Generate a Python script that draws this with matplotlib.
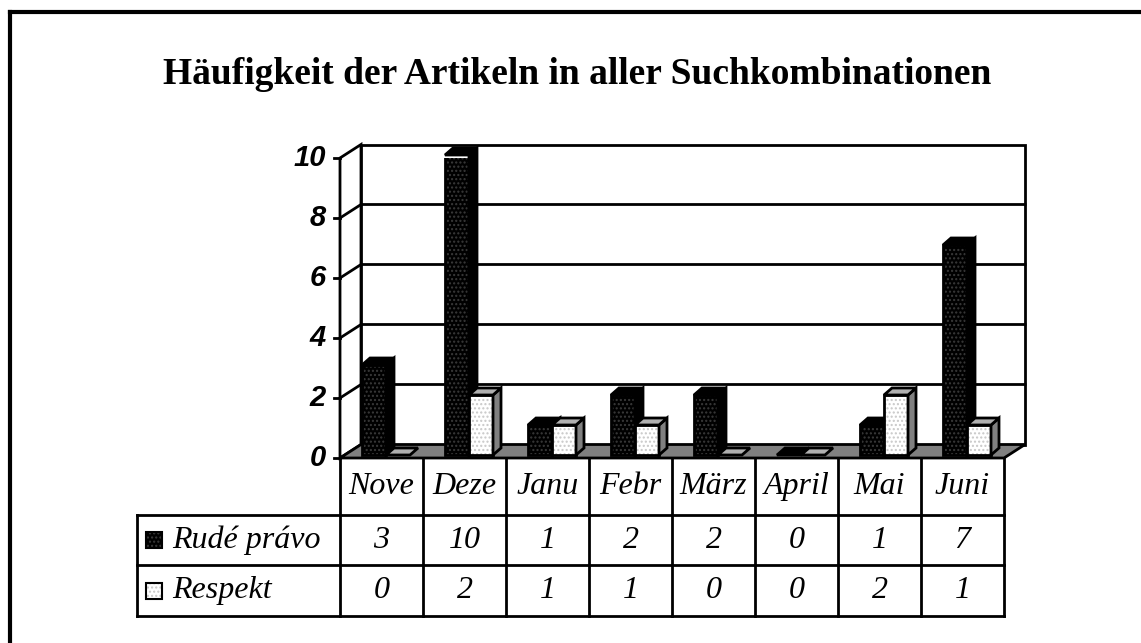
import numpy as np
import matplotlib.pyplot as plt
from matplotlib.patches import Polygon, Rectangle
from matplotlib.lines import Line2D

months = ['Nove', 'Deze', 'Janu', 'Febr', 'März', 'April', 'Mai', 'Juni']
rude_pravo = [3, 10, 1, 2, 2, 0, 1, 7]
respekt = [0, 2, 1, 1, 0, 0, 2, 1]
series_names = ['Rudé právo', 'Respekt']
yticks = [0, 2, 4, 6, 8, 10]
title = 'Häufigkeit der Artikeln in aller Suchkombinationen'

W, H = 1141, 643
fig = plt.figure(figsize=(W / 100, H / 100), dpi=100)

# front plane of the pseudo-3d box
ax = fig.add_axes([340 / W, (H - 458) / H, 664 / W, 300 / H])
n = len(months)
ax.set_xlim(-0.5, n - 0.5)
ax.set_ylim(0, 10)
ax.axis('off')

px = n / 664.0   # data units per pixel, x
py = 10 / 300.0  # data units per pixel, y
DX, DY = 21 * px, 13.5 * py  # depth of the box
lw = 2
serif = 'Liberation Serif'

def poly(pts, fc, z, **kw):
    p = Polygon(pts, closed=True, facecolor=fc, edgecolor='black', lw=lw,
                zorder=z, clip_on=False, joinstyle='miter', **kw)
    ax.add_patch(p)

x0, x1 = -0.5, n - 0.5
# left wall and back wall
poly([(x0, 0), (x0 + DX, DY), (x0 + DX, 10 + DY), (x0, 10)], 'white', 1)
poly([(x0 + DX, DY), (x1 + DX, DY), (x1 + DX, 10 + DY), (x0 + DX, 10 + DY)], 'white', 1)
for t in yticks[1:-1]:
    ax.plot([x0, x0 + DX, x1 + DX], [t, t + DY, t + DY], color='black', lw=lw,
            zorder=2, clip_on=False)
# floor
poly([(x0, 0), (x1, 0), (x1 + DX, DY), (x0 + DX, DY)], '#808080', 3)

# y axis ticks
for t in yticks:
    ax.plot([x0 - 6 * px, x0], [t, t], color='black', lw=lw, clip_on=False)
    ax.text(x0 - 14 * px, t, str(t), ha='right', va='center', fontsize=21,
            fontweight='bold', style='italic', family='Liberation Sans')

# bars
bw = 24 * px
bx, by = 8 * px, 7 * py
base = 3 * py
styles = [
    dict(front='black', top='black', side='black', hatch='#3a3a3a'),
    dict(front='white', top='#b0b0b0', side='#808080', hatch='#c8c8c8'),
]
for i in range(n):
    for s, vals in enumerate([rude_pravo, respekt]):
        h = vals[i]
        st = styles[s]
        left = i - 0.5 + 22 * px + s * bw
        z = 5 + s
        top = base + h
        if h > 0:
            ax.bar(left, h, bw, bottom=base, align='edge', color=st['front'],
                   edgecolor=st['hatch'], hatch='....', lw=0, zorder=z)
            ax.bar(left, h, bw, bottom=base, align='edge', fill=False,
                   edgecolor='black', lw=lw, zorder=z)
            poly([(left + bw, base), (left + bw + bx, base + by),
                  (left + bw + bx, top + by), (left + bw, top)], st['side'], z)
        poly([(left, top), (left + bw, top), (left + bw + bx, top + by),
              (left + bx, top + by)], st['top'], z)

# data table
rows = [0, -57 * py, -107 * py, -158 * py]
tl = x0 - 203 * px
kw = dict(color='black', lw=lw, clip_on=False, zorder=4, solid_capstyle='projecting')
for k in range(n + 1):
    ax.plot([x0 + k, x0 + k], [rows[0], rows[3]], **kw)
ax.plot([tl, tl], [rows[1], rows[3]], **kw)
for r in rows[1:]:
    ax.plot([tl, x1], [r, r], **kw)

tfont = dict(fontsize=23, style='italic', family=serif, va='center')
for i, m in enumerate(months):
    ax.text(i, (rows[0] + rows[1]) / 2, m, ha='center', **tfont)
    ax.text(i, (rows[1] + rows[2]) / 2, str(rude_pravo[i]), ha='center', **tfont)
    ax.text(i, (rows[2] + rows[3]) / 2, str(respekt[i]), ha='center', **tfont)

for s, name in enumerate(series_names):
    yc = (rows[s + 1] + rows[s + 2]) / 2
    ax.add_patch(Rectangle((x0 - 194 * px, yc - 8 * py), 16 * px, 16 * py,
                           facecolor=styles[s]['front'], edgecolor=styles[s]['hatch'],
                           hatch='....', lw=0, clip_on=False))
    ax.add_patch(Rectangle((x0 - 194 * px, yc - 8 * py), 16 * px, 16 * py,
                           fill=False, edgecolor='black', lw=1.5, clip_on=False))
    ax.text(x0 - 168 * px, yc, name, ha='left', **tfont)

fig.text(577 / W, 1 - 75 / H, title, ha='center', va='center', fontsize=27,
         fontweight='bold', family=serif)

# frame: only top and left edges
fig.add_artist(Line2D([10 / W, 1], [1 - 12 / H, 1 - 12 / H], color='black', lw=3,
                      transform=fig.transFigure, solid_capstyle='projecting'))
fig.add_artist(Line2D([10 / W, 10 / W], [0, 1 - 12 / H], color='black', lw=3,
                      transform=fig.transFigure, solid_capstyle='projecting'))

fig.savefig('out.png', dpi=100)
